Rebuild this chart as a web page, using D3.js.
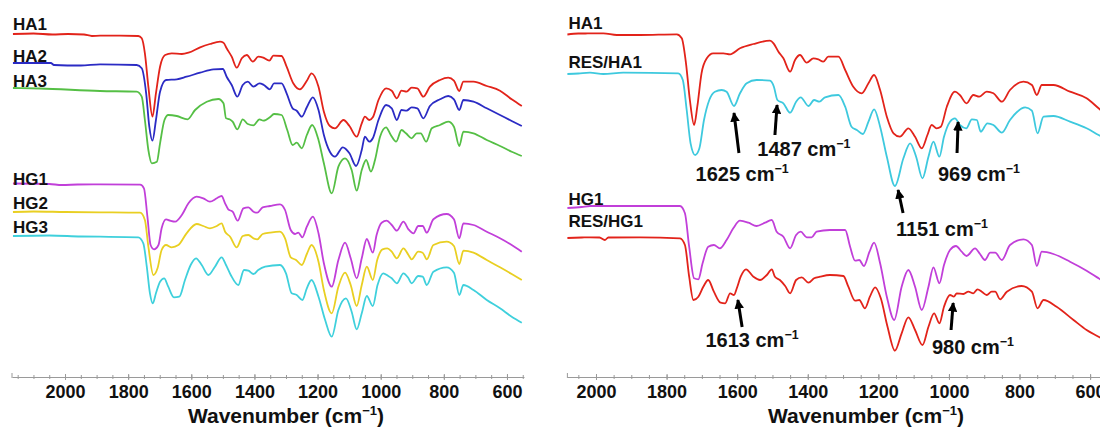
<!DOCTYPE html>
<html>
<head>
<meta charset="utf-8">
<script src="https://cdn.jsdelivr.net/npm/d3@7"></script>
<style>
  body { margin: 0; background: #fff; }
  svg { display: block; }
  text { font-family: "Liberation Sans", Arial, sans-serif; font-weight: bold; fill: #111; }
</style>
</head>
<body>
<svg id="chart" width="1100" height="427"></svg>
<script>
// spectra: [wavenumber (cm-1), stacked transmittance (a.u.)]
const ha1 = [[2165,343],[2100,343.5],[2040,342.5],[1990,343],[1940,342.5],[1915,341],[1889,341.3],[1826,341.3],[1768,341],[1757,338.7],[1747,323.7],[1736,290.3],[1723,260.3],[1712,283.7],[1699,310.3],[1683,322],[1662,323.7],[1630,323],[1609,324.3],[1572,329.7],[1541,333],[1509,335.3],[1498,334.3],[1488,328.7],[1472,320.3],[1456,309.3],[1440,318.7],[1424,322],[1405,315.3],[1388,320.3],[1372,319.3],[1353,316.3],[1340,321.3],[1314,321],[1298,310.3],[1277,293.7],[1256,287.7],[1234,296.3],[1219,303.7],[1197,290.3],[1180,265.3],[1161,251],[1145,248.7],[1118,257],[1099,251],[1076,240.3],[1060,253.7],[1050,260.3],[1036,257],[1025,259.7],[1007,277],[983,288.7],[965,286.3],[949,278.7],[934,286.3],[918,285.3],[902,289.3],[884,288.7],[865,280.3],[844,290.3],[812,297],[786,299.3],[768,296.3],[751,286],[738,295.3],[706,295.3],[664,291],[622,286.3],[585,277.7],[553,271]];
const ha2 = [[2165,314],[2045,314],[2035,312],[1950,311.5],[1889,312.7],[1773,312],[1757,308.7],[1743,283.7],[1733,250.3],[1723,236.3],[1712,257],[1699,285.3],[1680,297],[1646,297.7],[1615,300.3],[1572,304.3],[1530,307.7],[1500,308],[1488,300.3],[1472,292],[1454,280.3],[1437,292],[1421,295.3],[1403,290.3],[1384,293.7],[1370,292],[1351,287.7],[1338,293.7],[1314,293.7],[1298,283.7],[1279,268.7],[1266,266.3],[1250,260.3],[1234,269.7],[1215,279.7],[1197,267],[1180,242],[1161,225.3],[1145,220.3],[1120,229.7],[1099,223.7],[1078,211],[1060,227],[1050,240.3],[1036,235.3],[1025,238.7],[1007,257],[983,272],[965,268.7],[949,257],[934,267],[918,266.3],[902,269.7],[884,268.7],[865,258.7],[844,271],[812,277.7],[786,281],[768,277.7],[751,267],[738,277],[706,275.3],[664,268.7],[622,262],[585,256],[553,251]];
const ha3 = [[2165,289],[2080,288.5],[1889,286],[1773,285.3],[1757,280.3],[1747,257],[1736,227],[1725,213.7],[1709,215.3],[1699,233.7],[1685,257],[1673,262],[1646,261],[1612,257.7],[1588,267],[1551,275.3],[1514,278],[1498,273.7],[1490,258.7],[1479,257.7],[1469,255.3],[1454,247.7],[1437,257.7],[1421,253],[1403,251.7],[1384,257.7],[1372,256.3],[1351,259.7],[1338,263],[1314,262],[1296,247],[1279,232],[1266,234.3],[1250,228.7],[1234,242],[1217,252],[1197,237],[1180,213.7],[1155,183.7],[1134,210.3],[1113,218.7],[1092,207],[1076,186.3],[1060,207],[1046,217],[1031,205.3],[1018,217],[1002,240.3],[983,249.7],[968,242],[951,235.3],[934,247],[920,243.7],[902,238.7],[886,243.7],[873,243.7],[856,235.3],[838,248.7],[812,252],[786,255.3],[768,250.3],[751,231],[738,245.3],[706,243.7],[664,237],[622,231],[585,225.3],[553,221]];
const hg1 = [[2165,193.5],[2050,193],[2010,192],[1960,192.5],[1889,192.7],[1762,192.3],[1750,188.7],[1739,160.3],[1729,132],[1718,127.7],[1704,132],[1694,148.7],[1680,157.7],[1667,156.3],[1651,155.3],[1630,162],[1609,173.7],[1583,180.3],[1562,178.7],[1541,175.3],[1519,178.7],[1504,181],[1493,173.7],[1483,167.7],[1469,165.3],[1453,156.3],[1435,168.7],[1419,169.7],[1403,165.3],[1391,164.3],[1374,169.7],[1351,171],[1319,172.7],[1303,167],[1285,147],[1271,143],[1261,144.3],[1248,139.7],[1234,150.3],[1215,160.3],[1197,143.7],[1180,113.7],[1155,90.3],[1134,117],[1113,134.3],[1095,118.7],[1076,98.7],[1060,118.7],[1044,138],[1025,124.3],[1013,142],[997,154.3],[981,156.3],[965,152],[949,146.3],[928,155.3],[912,147.7],[896,143.7],[881,151],[867,151],[854,144.3],[833,157.7],[791,163],[768,157.7],[751,138.7],[738,153.7],[706,152],[664,145.3],[622,138.7],[585,132],[553,125.3]];
const hg2 = [[2165,165],[2100,165.5],[2000,165],[1889,164.7],[1762,164.3],[1747,157],[1736,130.3],[1720,102],[1707,108.7],[1694,127],[1680,132],[1662,129.7],[1641,132],[1615,143.7],[1583,153],[1562,151],[1541,148.7],[1519,151],[1504,153.7],[1493,145.3],[1477,140.3],[1456,129.7],[1437,141],[1419,142],[1403,138.7],[1391,137.7],[1374,143],[1351,144.3],[1319,145.3],[1303,138.7],[1285,119.7],[1268,117],[1250,112],[1234,123],[1219,132],[1197,115.3],[1180,87],[1155,63.7],[1134,90.3],[1113,104.3],[1095,92],[1076,71],[1060,92],[1044,110.3],[1025,97],[1011,117],[994,127.7],[979,128.7],[965,125.3],[949,118.7],[928,128.7],[912,122],[902,117.7],[881,125.3],[867,124.3],[854,117.7],[833,132],[791,135.3],[768,131],[751,113],[738,126.3],[706,124.3],[664,117],[622,109.7],[585,103],[553,97]];
const hg3 = [[2165,141],[2050,141.5],[1950,140.5],[1889,140.3],[1768,139.7],[1752,133.7],[1741,110.3],[1731,83.7],[1722,73.7],[1712,83.7],[1699,95.3],[1686,98.7],[1673,90.3],[1655,79.7],[1638,80.3],[1620,97],[1602,112],[1585,118.7],[1567,112],[1546,102],[1525,110.3],[1504,119.7],[1490,112],[1475,102],[1451,92],[1433,107],[1419,106.3],[1403,103],[1388,107],[1366,110.3],[1319,112],[1300,103.7],[1282,83.7],[1266,82],[1248,77],[1234,88.7],[1219,97],[1197,80.3],[1176,57],[1155,40.3],[1134,67],[1110,78.7],[1092,65.3],[1076,47.7],[1060,63.7],[1044,81],[1025,71],[1010,92],[992,103.7],[976,101],[965,98.7],[949,93.7],[928,103.7],[912,98.7],[902,93.7],[881,101],[867,100.3],[854,92],[833,105.3],[791,109.7],[768,104.3],[751,82],[738,92],[706,87],[664,77],[622,68.7],[585,60.3],[553,54.3]];

// right-hand comparison panel
const ha1b = [[2081,342.5],[2050,343.5],[2030,343.5],[2017,343.7],[1979,343.7],[1941,342],[1875,342],[1771,342.7],[1757,338.7],[1745,313.7],[1734,277],[1722,252],[1713,270.3],[1701,303.7],[1686,318.7],[1668,323.7],[1639,323.7],[1620,322.7],[1592,328.7],[1554,333],[1507,336.3],[1497,333.7],[1483,325.3],[1469,318.7],[1450,305.3],[1436,317],[1422,322],[1403,314.3],[1384,318.7],[1370,317.7],[1356,315.3],[1342,320.3],[1313,320.3],[1294,307],[1271,290.3],[1247,283.7],[1228,293.7],[1212,302],[1195,287],[1176,260.3],[1157,243.7],[1139,240.3],[1115,248.7],[1096,240.3],[1077,228.7],[1061,242],[1049,252],[1035,248.7],[1023,250.3],[1006,270.3],[983,285.3],[969,282],[950,273.7],[931,282],[914,280.3],[893,285.3],[874,283.7],[850,275.3],[827,287],[789,295.3],[765,292],[751,282],[737,292],[704,292],[657,285.3],[610,278.7],[576,268.7],[560,264]];
const resHa1 = [[2081,303],[2050,303.5],[2017,304.3],[1979,303],[1923,304.3],[1767,303.7],[1754,297],[1743,267],[1732,233.7],[1719,222],[1707,228.7],[1694,257],[1679,277],[1663,285.3],[1644,287],[1630,285.3],[1609,271],[1592,283.7],[1573,293.7],[1545,297],[1507,296.3],[1496,290.3],[1486,277],[1469,273.7],[1450,264.3],[1433,275.3],[1420,279.7],[1398,271],[1382,277],[1367,275.3],[1351,279.7],[1313,282],[1294,270.3],[1276,250.3],[1261,247],[1244,243],[1228,255.3],[1212,267.7],[1195,250.3],[1176,220.3],[1153,191],[1129,218.7],[1110,233.7],[1093,220.3],[1075,198.7],[1058,220.3],[1044,235.3],[1027,220.3],[1014,240.3],[997,255.3],[983,258.7],[969,252],[951,248.7],[935,257.7],[921,257],[910,245.3],[891,253.7],[874,252],[850,244.3],[827,257],[784,269.7],[765,266.3],[749,243.7],[732,260.3],[704,261],[657,255.3],[610,248.7],[576,242],[560,239]];
const hg1b = [[2081,169],[2040,170],[2017,171],[1762,171],[1748,163.7],[1736,130.3],[1722,98.7],[1710,97.7],[1698,113.7],[1682,130.3],[1666,132],[1649,128.7],[1630,137],[1611,148.7],[1592,156.3],[1568,154.3],[1545,151],[1521,154.3],[1502,157],[1488,145.3],[1469,140.3],[1450,128.7],[1433,142],[1420,145.3],[1403,139.7],[1389,139.7],[1375,145.3],[1337,147],[1294,147],[1280,130.3],[1266,116.3],[1254,117],[1241,111],[1225,125.3],[1212,134.3],[1195,113.7],[1176,80.3],[1155,57],[1134,90.3],[1115,107],[1096,90.3],[1077,67],[1058,90.3],[1044,109.7],[1027,93.7],[1014,112],[997,127],[980,131],[964,125.3],[950,121],[926,128.7],[912,123],[898,117],[883,124.3],[869,124.3],[850,117],[827,132],[789,137.7],[765,132],[751,111],[737,125.3],[704,123],[657,115.3],[610,106.3],[576,98.7],[560,95]];
const resHg1 = [[2081,139],[2040,139.5],[2017,139.7],[1990,139.5],[1975,137],[1965,139.5],[1875,139.7],[1762,138.7],[1748,132],[1736,100.3],[1724,77],[1710,80.3],[1696,90.3],[1682,97],[1666,85.3],[1647,74.3],[1634,73.7],[1620,83.7],[1609,82],[1601,88.7],[1590,100.3],[1575,107.7],[1554,100.3],[1535,97],[1516,102],[1502,107.7],[1493,100.3],[1479,97],[1464,91],[1450,83.7],[1433,97],[1417,99.7],[1398,94.3],[1382,98.7],[1365,100.3],[1337,102],[1299,101],[1285,90.3],[1266,76.3],[1254,77],[1238,68.7],[1224,80.3],[1209,89.7],[1193,78.7],[1174,50.3],[1153,26.3],[1134,43.7],[1115,59.7],[1096,47],[1075,32],[1058,50.3],[1042,63.7],[1027,53.7],[1014,70.3],[997,82],[986,80.3],[978,83.7],[959,83],[945,85.3],[931,83.7],[919,87.7],[907,85.3],[893,82],[879,85.3],[869,85.3],[855,77.7],[836,85.3],[794,91],[765,85.3],[749,68.7],[732,77],[695,70.3],[647,57],[610,47],[576,40.3],[560,37]];

const tickValues = [2000, 1800, 1600, 1400, 1200, 1000, 800, 600];

// marked bands: label, arrow tip [wn, value], arrow tail [wn, value], label anchor [wn, value]
const bands = [
  { label: "1625", tip: [1609, 264], tail: [1595, 224], text: [1586, 196] },
  { label: "1487", tip: [1487, 272], tail: [1493, 242], text: [1411, 221] },
  { label: "969",  tip: [974, 255],  tail: [977, 224],  text: [915, 196] },
  { label: "1151", tip: [1144, 187], tail: [1130, 164], text: [1020, 141] },
  { label: "1613", tip: [1598, 77],  tail: [1586, 50],  text: [1558, 30] },
  { label: "980",  tip: [988, 74],   tail: [994, 47],   text: [932, 23] }
];

const panels = [
  {
    domain: [2168, 546], range: [12, 524], titleAt: 1300,
    series: [
      { name: "HA1", data: ha1, color: "#e2231a", label: 347.5 },
      { name: "HA2", data: ha2, color: "#2b2bc4", label: 315 },
      { name: "HA3", data: ha3, color: "#55bf45", label: 289.7 },
      { name: "HG1", data: hg1, color: "#c13fd9", label: 192 },
      { name: "HG2", data: hg2, color: "#e9cf22", label: 168 },
      { name: "HG3", data: hg3, color: "#3fd0dc", label: 144 }
    ]
  },
  {
    domain: [2081, 572], range: [567.4, 1100], titleAt: 1235, notes: bands,
    series: [
      { name: "HA1", data: ha1b, color: "#e2231a", label: 347.7 },
      { name: "RES/HA1", data: resHa1, color: "#3ec9de", label: 308.7 },
      { name: "HG1", data: hg1b, color: "#c13fd9", label: 172 },
      { name: "RES/HG1", data: resHg1, color: "#e2231a", label: 150.3 }
    ]
  }
];

const svg = d3.select("#chart");
const y = d3.scaleLinear().domain([0, 350]).range([377, 27]);

svg.append("defs").append("marker")
  .attr("id", "head")
  .attr("viewBox", "0 0 10 10")
  .attr("refX", 9).attr("refY", 5)
  .attr("markerWidth", 3.2).attr("markerHeight", 3.2)
  .attr("markerUnits", "strokeWidth")
  .attr("orient", "auto")
  .append("path")
  .attr("d", "M0,0L10,5L0,10Z")
  .attr("fill", "#000");

function cmText(sel, size) {
  sel.append("tspan").text(" cm");
  sel.append("tspan").attr("font-size", size * 0.62).attr("dy", -size * 0.38).text("\u22121");
}

panels.forEach(p => {
  const x = d3.scaleLinear().domain(p.domain).range(p.range);
  const g = svg.append("g");

  const line = d3.line()
    .x(d => x(d[0]))
    .y(d => y(d[1]))
    .curve(d3.curveMonotoneX);

  // axis
  const minor = d3.range(2150, 540, -50).filter(v => v <= p.domain[0] && v >= p.domain[1]);
  g.append("g")
    .attr("transform", `translate(0,${y(0)})`)
    .call(d3.axisBottom(x).tickValues(minor).tickSize(2).tickSizeOuter(0).tickFormat(""))
    .call(a => a.select(".domain").attr("stroke", "#9a9a9a"))
    .call(a => a.selectAll(".tick line").attr("stroke", "#9a9a9a").attr("y1", -2));

  g.append("g")
    .attr("transform", `translate(0,${y(0)})`)
    .call(d3.axisBottom(x).tickValues(tickValues).tickFormat(d3.format("d"))
      .tickSize(3).tickPadding(5).tickSizeOuter(0))
    .call(a => a.select(".domain").remove())
    .call(a => a.selectAll(".tick line").attr("stroke", "#9a9a9a").attr("y1", -3))
    .call(a => a.selectAll(".tick text")
      .attr("font-size", 18).attr("font-family", '"Liberation Sans", Arial, sans-serif')
      .attr("font-weight", "bold").attr("fill", "#111"));

  g.append("line")
    .attr("x1", p.range[0]).attr("x2", p.range[0])
    .attr("y1", y(0) - 4).attr("y2", y(0) + 1)
    .attr("stroke", "#9a9a9a");

  const title = g.append("text")
    .attr("x", x(p.titleAt)).attr("y", 423)
    .attr("text-anchor", "middle")
    .attr("font-size", 21)
    .text("Wavenumber (cm");
  title.append("tspan").attr("font-size", 13).attr("dy", -8).text("\u22121");
  title.append("tspan").attr("dy", 8).text(")");

  // spectra
  g.selectAll("path.spec")
    .data(p.series)
    .join("path")
    .attr("class", "spec")
    .attr("d", s => line(s.data))
    .attr("fill", "none")
    .attr("stroke", s => s.color)
    .attr("stroke-width", 1.8)
    .attr("stroke-linejoin", "round");

  g.selectAll("text.name")
    .data(p.series)
    .join("text")
    .attr("class", "name")
    .attr("x", x(p.domain[0]) + 1)
    .attr("y", s => y(s.label))
    .attr("font-size", 17)
    .text(s => s.name);

  // band annotations
  (p.notes || []).forEach(n => {
    g.append("line")
      .attr("x1", x(n.tail[0])).attr("y1", y(n.tail[1]))
      .attr("x2", x(n.tip[0])).attr("y2", y(n.tip[1]))
      .attr("stroke", "#000")
      .attr("stroke-width", 3)
      .attr("marker-end", "url(#head)");
    const t = g.append("text")
      .attr("x", x(n.text[0])).attr("y", y(n.text[1]))
      .attr("text-anchor", "middle")
      .attr("font-size", 20)
      .text(n.label);
    cmText(t, 20);
  });
});
</script>
</body>
</html>
